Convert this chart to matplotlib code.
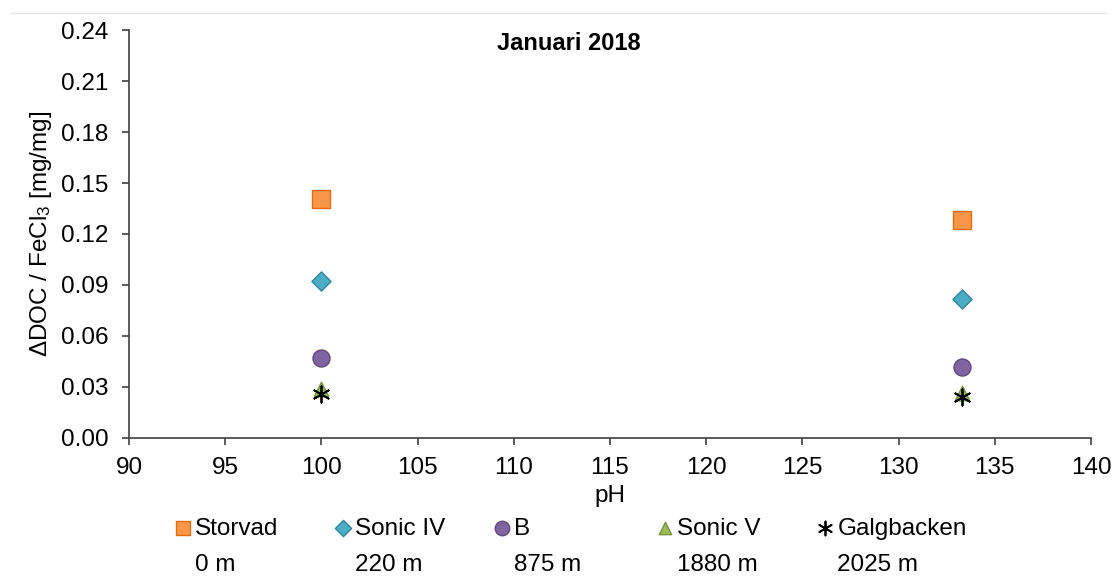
import matplotlib.pyplot as plt
from matplotlib.lines import Line2D

plt.rcParams['font.family'] = ['Liberation Sans', 'DejaVu Sans']
plt.rcParams['mathtext.default'] = 'regular'

# pH values for the two dosing levels
ph = [100, 133.3]

# DOC removal per FeCl3 dose [mg/mg] for each station
storvad = [0.1406, 0.1282]
sonic_iv = [0.0924, 0.0818]
b_site = [0.0470, 0.0418]
sonic_v = [0.0290, 0.0265]
galgbacken = [0.0260, 0.0240]

names = ['Storvad', 'Sonic IV', 'B', 'Sonic V', 'Galgbacken']
distances = ['0 m', '220 m', '875 m', '1880 m', '2025 m']

fs = 17.5

fig = plt.figure(figsize=(11.17, 5.76), dpi=100)
ax = fig.add_axes([0.1155, 0.2396, 0.8612, 0.7083])

ax.scatter(ph, storvad, marker='s', s=150, color='#F79646', edgecolor='#E46C0A',
           linewidth=1, label='Storvad', zorder=3)
ax.scatter(ph, sonic_iv, marker='D', s=95, color='#4BACC6', edgecolor='#31859C',
           linewidth=1, label='Sonic IV', zorder=3)
ax.scatter(ph, b_site, marker='o', s=150, color='#8064A2', edgecolor='#604A7B',
           linewidth=1, label='B', zorder=3)
ax.scatter(ph, sonic_v, marker='^', s=110, color='#9BBB59', edgecolor='#77933C',
           linewidth=1, label='Sonic V', zorder=3)
ax.scatter(ph, galgbacken, marker=(6, 2, 0), s=140, color='black',
           linewidth=1.3, label='Galgbacken', zorder=4)

ax.set_xlim(90, 140)
ax.set_ylim(0, 0.24)
ax.set_xticks(range(90, 141, 5))
ax.set_yticks([i * 0.03 for i in range(9)])
ax.yaxis.set_major_formatter(plt.FormatStrFormatter('%.2f'))
ax.tick_params(axis='both', direction='out', length=5, width=1.2,
               color='#404040', labelsize=fs)
ax.tick_params(axis='y', pad=10)
ax.tick_params(axis='x', pad=9)

for side in ['top', 'right']:
    ax.spines[side].set_visible(False)
for side in ['left', 'bottom']:
    ax.spines[side].set_color('#404040')
    ax.spines[side].set_linewidth(1.2)

ax.set_xlabel('pH', fontsize=fs, labelpad=4)
ax.set_ylabel('$\\Delta$DOC / FeCl$_3$ [mg/mg]', fontsize=fs, labelpad=5)
fig.text(0.509, 0.924, 'Januari 2018', fontsize=17, fontweight='bold',
         ha='center', va='center')

# legend: one column per station, name on top and distance below
handles, labels = ax.get_legend_handles_labels()
blank = Line2D([], [], linestyle='none', marker='none')
col_x = [173.5, 333.5, 492.5, 655.5, 815.5]
for h, l, d, x in zip(handles, labels, distances, col_x):
    fig.legend([h, blank], [l, d], loc='upper left',
               bbox_to_anchor=(x / 1117, 0.101), frameon=False, fontsize=fs,
               handletextpad=0.1, handlelength=0.8, labelspacing=0.57,
               borderpad=0, borderaxespad=0, markerscale=0.85)

# light outer frame line along the top
fig.add_artist(Line2D([0.01, 0.99], [0.977, 0.977], color='#E6E6E6', lw=1,
                      transform=fig.transFigure))

fig.savefig('out.png', dpi=100)
